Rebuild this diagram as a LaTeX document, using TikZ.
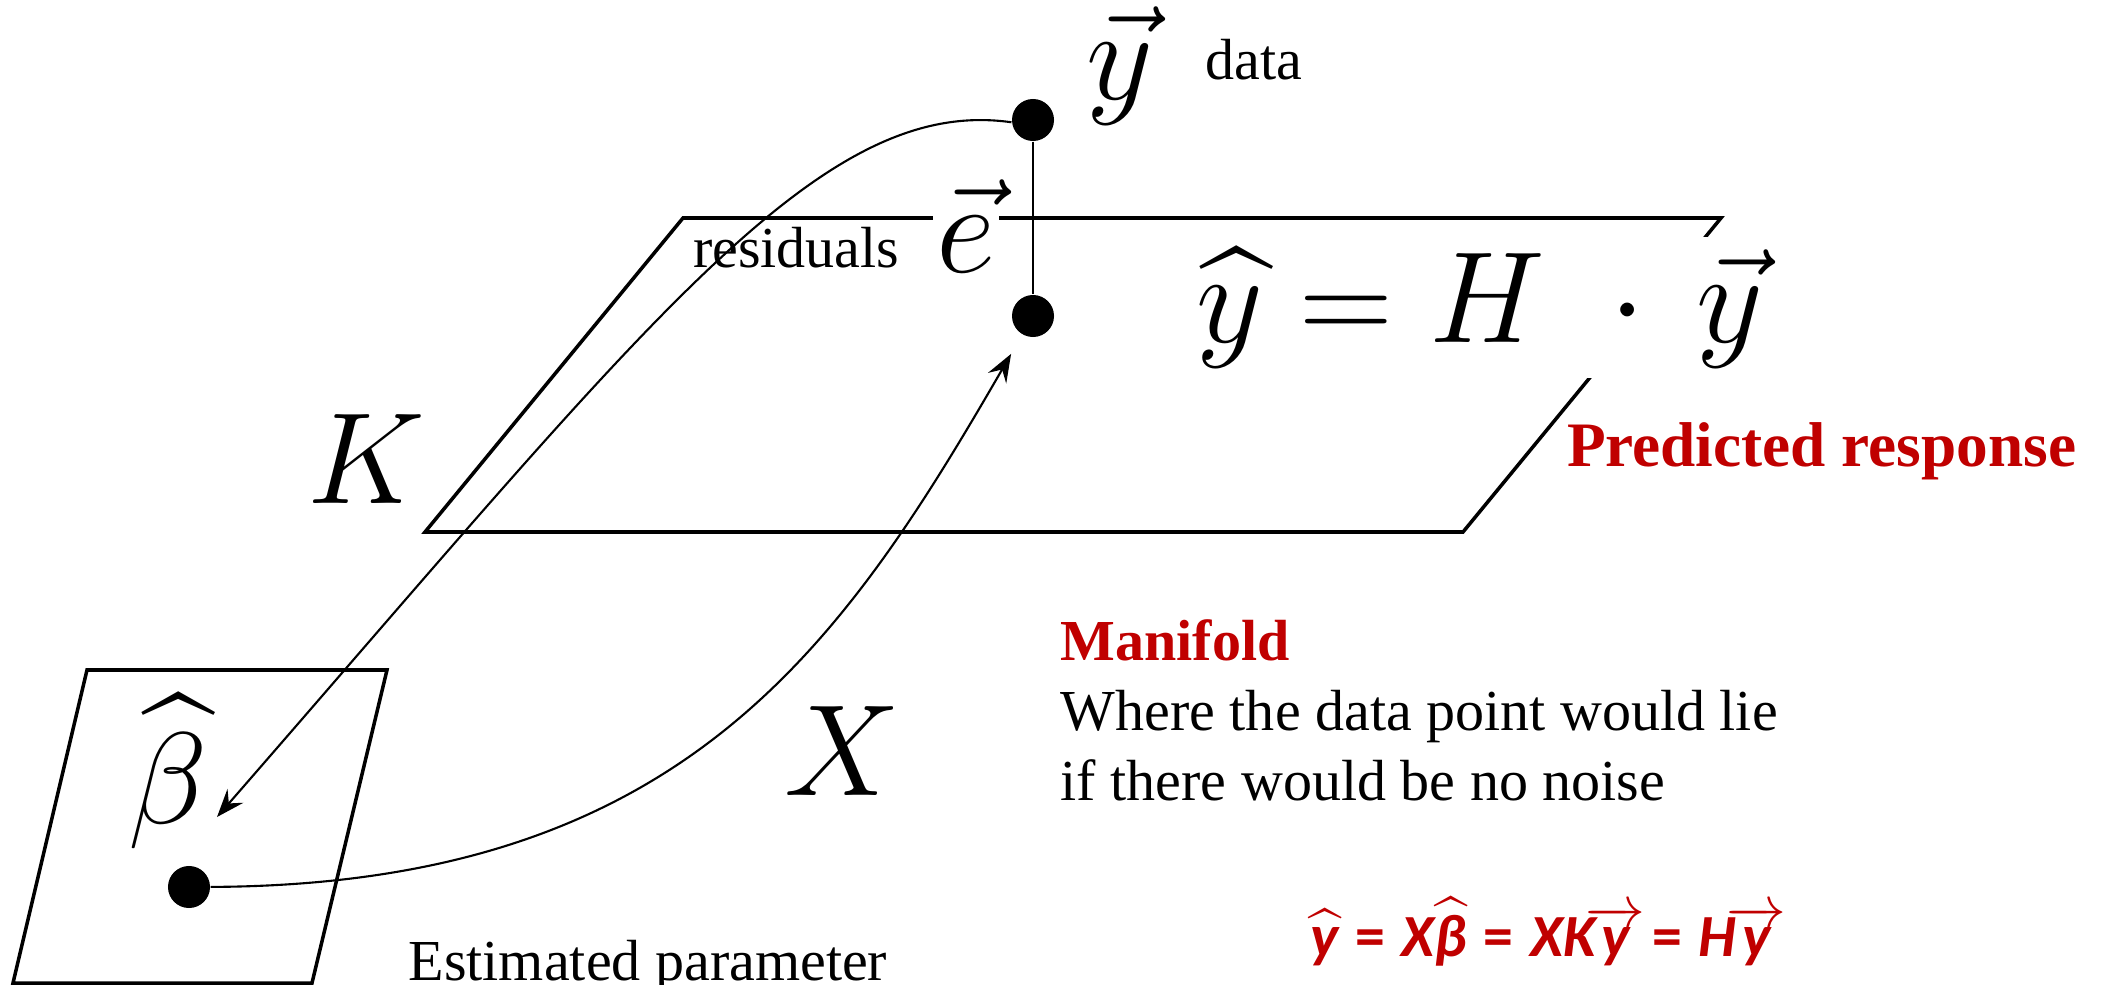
\RequirePackage{fix-cm}
\documentclass[tikz,border=0pt]{standalone}
\usepackage{amsmath,amssymb}
\usepackage{fontspec}
\setmainfont{Liberation Serif}
\newfontfamily\calibfont{Carlito}
\usepackage{xcolor}
\definecolor{clAccent}{HTML}{C00000}
\usepackage{tikz}
\usetikzlibrary{arrows.meta,positioning,calc}
\newcommand\cbl[1]{\mbox{\calibfont\bfseries\itshape #1}}
\newcommand\ceq{\mathrel{\mbox{\calibfont\bfseries =}}}
\tikzset{
  plane/.style={draw=black, line width=1pt, line join=miter},
  dot/.style={circle, fill=black, inner sep=0pt, minimum size=4.2mm},
  bigmath/.style={font=\fontsize{37}{40}\selectfont, inner sep=1pt},
  txt/.style={font=\fontsize{16.5}{20}\selectfont, inner sep=0pt},
  redtxt/.style={txt, text=clAccent, font=\fontsize{16.5}{20}\selectfont\bfseries},
  eqtxt/.style={inner sep=0pt, text=clAccent, font=\fontsize{17}{20}\selectfont},
  link/.style={line width=0.6pt},
  flow/.style={link, -{Stealth[length=2.8mm, width=2.1mm, inset=1mm]}},
}

\begin{document}
\begin{tikzpicture}[x=0.01cm, y=-0.01cm]
  \useasboundingbox (0,0) rectangle (2103,985);
  % the two planes
  \draw[plane] (683,218) -- (1721,218) -- (1463,532) -- (425,532) -- cycle;
  \draw[plane] (87,670) -- (387,670) -- (312,983) -- (13,983) -- cycle;
  % points
  \node[dot] (ydata) at (1033,120) {};
  \node[dot] (yhat) at (1033,316) {};
  \node[dot] (betadot) at (189,887) {};
  \draw[link, line width=0.7pt] (ydata) -- (yhat);
  % labels
  \node[bigmath, anchor=base] (yvec) at (1120,100) {$\vec{y}$};
  \node[txt, anchor=base west] (datalbl) at (1205,80) {data};
  \node[bigmath, anchor=base, fill=white] (evec) at (966,272) {$\vec{e}$};
  \node[txt, anchor=base east] (reslbl) at (900,268) {residuals};
  \node[bigmath, anchor=base west, fill=white, inner sep=3pt] (hateq) at (1185,342) {$\widehat{y} = H\;\cdot\,\vec{y}$};
  \node[redtxt, anchor=base east, font=\fontsize{18}{22}\selectfont\bfseries] (predlbl) at (2077,466) {Predicted response};
  \node[bigmath, anchor=base] (klbl) at (366,503) {$K$};
  \node[bigmath, anchor=base] (xlbl) at (842,795) {$X$};
  \node[bigmath, anchor=base] (betahat) at (168,823) {$\widehat{\beta}$};
  \node[txt, anchor=base west] (estlbl) at (408,980) {Estimated parameter};
  \node[redtxt, anchor=base west] (mfdlbl) at (1060,660) {Manifold};
  \node[txt, anchor=base west] (wherelbl) at (1060,730) {Where the data point would lie};
  \node[txt, anchor=base west] (noiselbl) at (1060,800) {if there would be no noise};
  \node[eqtxt, anchor=base west] (eqlbl) at (1310,956)
    {$\widehat{\cbl{y}} \ceq \cbl{X}\widehat{\cbl{β}} \ceq \cbl{XK}\!\overrightarrow{\cbl{y}}\! \ceq \cbl{H}\!\overrightarrow{\cbl{y}}$};
  % mappings K and X
  \coordinate (bhead) at (217,817);
  \draw[flow] (ydata.186) .. controls (820,95) and (650,320) .. (bhead);
  \draw[flow, shorten >=0.22cm] (betadot) .. controls (680,885) and (840,650) .. (yhat);
\end{tikzpicture}
\end{document}
